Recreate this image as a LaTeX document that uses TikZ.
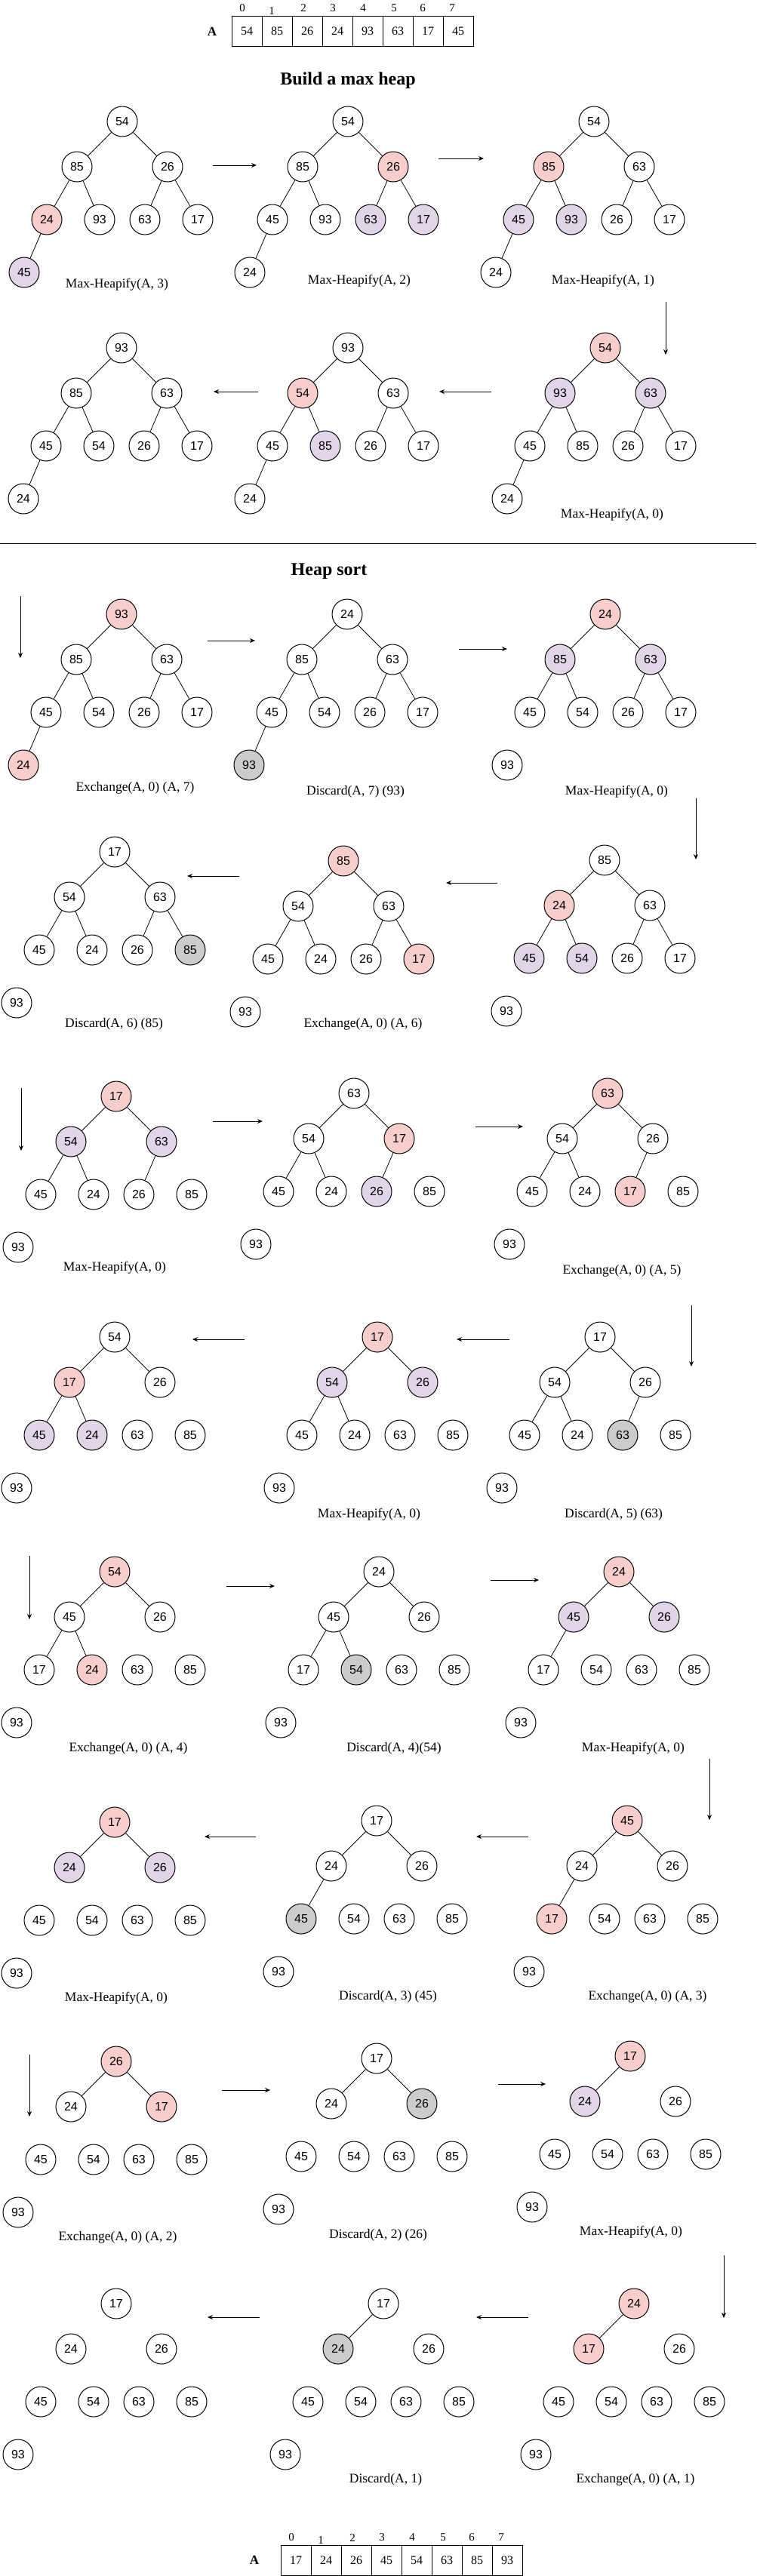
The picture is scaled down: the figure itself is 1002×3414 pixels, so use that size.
\documentclass[tikz,border=0pt]{standalone}
\usepackage{fontspec}
\setmainfont{Liberation Serif}
\setsansfont{Liberation Sans}
\usetikzlibrary{arrows.meta}
\definecolor{hotpink}{HTML}{F8CECC}
\definecolor{lilac}{HTML}{E1D5E7}
\definecolor{offgray}{HTML}{CCCCCC}
\tikzset{
 hnode/.style={circle,draw=black,line width=1pt,minimum size=40pt,inner sep=0pt,fill=white,font=\sffamily\fontsize{16}{18}\selectfont},
 hred/.style={hnode,fill=hotpink},
 hpurple/.style={hnode,fill=lilac},
 hgray/.style={hnode,fill=offgray},
 hedge/.style={line width=0.8pt},
 flow/.style={line width=1pt,-{Stealth[length=7pt,width=6pt]}},
 oplabel/.style={font=\fontsize{17.5}{20}\selectfont},
 cell/.style={draw,line width=1pt,minimum size=40pt,inner sep=0pt,font=\fontsize{16}{18}\selectfont},
 idx/.style={font=\fontsize{15}{17}\selectfont},
 heading/.style={font=\bfseries\fontsize{24}{28}\selectfont}
}
\begin{document}
\begin{tikzpicture}[x=1pt,y=-1pt]
 \useasboundingbox[fill=white] (0,0) rectangle (1002,3414);
 \node[font=\bfseries\fontsize{17}{20}\selectfont] (ta) at (281,42) {A};
 \node[cell] (tc0) at (327,41) {54};
 \node[cell] (tc1) at (367,41) {85};
 \node[cell] (tc2) at (407,41) {26};
 \node[cell] (tc3) at (447,41) {24};
 \node[cell] (tc4) at (487,41) {93};
 \node[cell] (tc5) at (527,41) {63};
 \node[cell] (tc6) at (567,41) {17};
 \node[cell] (tc7) at (607,41) {45};
 \node[idx] (ti0) at (321,11) {0};
 \node[idx] (ti1) at (360,15) {1};
 \node[idx] (ti2) at (402,11) {2};
 \node[idx] (ti3) at (441,11) {3};
 \node[idx] (ti4) at (481,11) {4};
 \node[idx] (ti5) at (522,11) {5};
 \node[idx] (ti6) at (560,11) {6};
 \node[idx] (ti7) at (599,11) {7};
 \node[heading] (build) at (461,107) {Build a max heap};

 \begin{scope}[shift={(162,161)}]
 \node[hnode] (b1n0) at (0,0) {54};
 \node[hnode] (b1n1) at (-60,60) {85};
 \node[hnode] (b1n2) at (60,60) {26};
 \node[hred] (b1n3) at (-100,130) {24};
 \node[hnode] (b1n4) at (-30,130) {93};
 \node[hnode] (b1n5) at (30,130) {63};
 \node[hnode] (b1n6) at (100,130) {17};
 \node[hpurple] (b1n7) at (-130,200) {45};
 \draw[hedge] (b1n0)--(b1n1) (b1n0)--(b1n2) (b1n1)--(b1n3) (b1n1)--(b1n4) (b1n2)--(b1n5) (b1n2)--(b1n6) (b1n3)--(b1n7);
 \end{scope}
 \node[oplabel] (b1op) at (155,377) {Max-Heapify(A, 3)};

 \begin{scope}[shift={(461,161)}]
 \node[hnode] (b2n0) at (0,0) {54};
 \node[hnode] (b2n1) at (-60,60) {85};
 \node[hred] (b2n2) at (60,60) {26};
 \node[hnode] (b2n3) at (-100,130) {45};
 \node[hnode] (b2n4) at (-30,130) {93};
 \node[hpurple] (b2n5) at (30,130) {63};
 \node[hpurple] (b2n6) at (100,130) {17};
 \node[hnode] (b2n7) at (-130,200) {24};
 \draw[hedge] (b2n0)--(b2n1) (b2n0)--(b2n2) (b2n1)--(b2n3) (b2n1)--(b2n4) (b2n2)--(b2n5) (b2n2)--(b2n6) (b2n3)--(b2n7);
 \end{scope}
 \node[oplabel] (b2op) at (476,372) {Max-Heapify(A, 2)};

 \begin{scope}[shift={(787,161)}]
 \node[hnode] (b3n0) at (0,0) {54};
 \node[hred] (b3n1) at (-60,60) {85};
 \node[hnode] (b3n2) at (60,60) {63};
 \node[hpurple] (b3n3) at (-100,130) {45};
 \node[hpurple] (b3n4) at (-30,130) {93};
 \node[hnode] (b3n5) at (30,130) {26};
 \node[hnode] (b3n6) at (100,130) {17};
 \node[hnode] (b3n7) at (-130,200) {24};
 \draw[hedge] (b3n0)--(b3n1) (b3n0)--(b3n2) (b3n1)--(b3n3) (b3n1)--(b3n4) (b3n2)--(b3n5) (b3n2)--(b3n6) (b3n3)--(b3n7);
 \end{scope}
 \node[oplabel] (b3op) at (799,372) {Max-Heapify(A, 1)};

 \begin{scope}[shift={(802,461)}]
 \node[hred] (b4n0) at (0,0) {54};
 \node[hpurple] (b4n1) at (-60,60) {93};
 \node[hpurple] (b4n2) at (60,60) {63};
 \node[hnode] (b4n3) at (-100,130) {45};
 \node[hnode] (b4n4) at (-30,130) {85};
 \node[hnode] (b4n5) at (30,130) {26};
 \node[hnode] (b4n6) at (100,130) {17};
 \node[hnode] (b4n7) at (-130,200) {24};
 \draw[hedge] (b4n0)--(b4n1) (b4n0)--(b4n2) (b4n1)--(b4n3) (b4n1)--(b4n4) (b4n2)--(b4n5) (b4n2)--(b4n6) (b4n3)--(b4n7);
 \end{scope}
 \node[oplabel] (b4op) at (811,682) {Max-Heapify(A, 0)};

 \begin{scope}[shift={(461,461)}]
 \node[hnode] (b5n0) at (0,0) {93};
 \node[hred] (b5n1) at (-60,60) {54};
 \node[hnode] (b5n2) at (60,60) {63};
 \node[hnode] (b5n3) at (-100,130) {45};
 \node[hpurple] (b5n4) at (-30,130) {85};
 \node[hnode] (b5n5) at (30,130) {26};
 \node[hnode] (b5n6) at (100,130) {17};
 \node[hnode] (b5n7) at (-130,200) {24};
 \draw[hedge] (b5n0)--(b5n1) (b5n0)--(b5n2) (b5n1)--(b5n3) (b5n1)--(b5n4) (b5n2)--(b5n5) (b5n2)--(b5n6) (b5n3)--(b5n7);
 \end{scope}

 \begin{scope}[shift={(161,461)}]
 \node[hnode] (b6n0) at (0,0) {93};
 \node[hnode] (b6n1) at (-60,60) {85};
 \node[hnode] (b6n2) at (60,60) {63};
 \node[hnode] (b6n3) at (-100,130) {45};
 \node[hnode] (b6n4) at (-30,130) {54};
 \node[hnode] (b6n5) at (30,130) {26};
 \node[hnode] (b6n6) at (100,130) {17};
 \node[hnode] (b6n7) at (-130,200) {24};
 \draw[hedge] (b6n0)--(b6n1) (b6n0)--(b6n2) (b6n1)--(b6n3) (b6n1)--(b6n4) (b6n2)--(b6n5) (b6n2)--(b6n6) (b6n3)--(b6n7);
 \end{scope}

 \coordinate (ba1s) at (282,219); \coordinate (ba1e) at (340,219);
 \coordinate (ba2s) at (581,210); \coordinate (ba2e) at (641,210);
 \coordinate (ba3s) at (882,400); \coordinate (ba3e) at (882,470);
 \coordinate (ba4s) at (651,519); \coordinate (ba4e) at (582,519);
 \coordinate (ba5s) at (342,519); \coordinate (ba5e) at (283,519);
 \draw[flow] (ba1s) -- (ba1e);
 \draw[flow] (ba2s) -- (ba2e);
 \draw[flow] (ba3s) -- (ba3e);
 \draw[flow] (ba4s) -- (ba4e);
 \draw[flow] (ba5s) -- (ba5e);

 \draw[line width=1pt] (0,720) -- (1002,720);
 \node[heading] (sort) at (436,757) {Heap sort};

 \begin{scope}[shift={(161,814)}]
 \node[hred] (s1n0) at (0,0) {93};
 \node[hnode] (s1n1) at (-60,60) {85};
 \node[hnode] (s1n2) at (60,60) {63};
 \node[hnode] (s1n3) at (-100,130) {45};
 \node[hnode] (s1n4) at (-30,130) {54};
 \node[hnode] (s1n5) at (30,130) {26};
 \node[hnode] (s1n6) at (100,130) {17};
 \node[hred] (s1n7) at (-130,200) {24};
 \draw[hedge] (s1n0)--(s1n1) (s1n0)--(s1n2) (s1n1)--(s1n3) (s1n1)--(s1n4) (s1n2)--(s1n5) (s1n2)--(s1n6) (s1n3)--(s1n7);
 \end{scope}
 \node[oplabel] (s1op) at (179,1044) {Exchange(A, 0) (A, 7)};

 \begin{scope}[shift={(460,814)}]
 \node[hnode] (s2n0) at (0,0) {24};
 \node[hnode] (s2n1) at (-60,60) {85};
 \node[hnode] (s2n2) at (60,60) {63};
 \node[hnode] (s2n3) at (-100,130) {45};
 \node[hnode] (s2n4) at (-30,130) {54};
 \node[hnode] (s2n5) at (30,130) {26};
 \node[hnode] (s2n6) at (100,130) {17};
 \node[hgray] (s2n7) at (-130,200) {93};
 \draw[hedge] (s2n0)--(s2n1) (s2n0)--(s2n2) (s2n1)--(s2n3) (s2n1)--(s2n4) (s2n2)--(s2n5) (s2n2)--(s2n6) (s2n3)--(s2n7);
 \end{scope}
 \node[oplabel] (s2op) at (471,1049) {Discard(A, 7) (93)};

 \begin{scope}[shift={(802,814)}]
 \node[hred] (s3n0) at (0,0) {24};
 \node[hpurple] (s3n1) at (-60,60) {85};
 \node[hpurple] (s3n2) at (60,60) {63};
 \node[hnode] (s3n3) at (-100,130) {45};
 \node[hnode] (s3n4) at (-30,130) {54};
 \node[hnode] (s3n5) at (30,130) {26};
 \node[hnode] (s3n6) at (100,130) {17};
 \node[hnode] (s3n7) at (-130,200) {93};
 \draw[hedge] (s3n0)--(s3n1) (s3n0)--(s3n2) (s3n1)--(s3n3) (s3n1)--(s3n4) (s3n2)--(s3n5) (s3n2)--(s3n6);
 \end{scope}
 \node[oplabel] (s3op) at (817,1049) {Max-Heapify(A, 0)};

 \begin{scope}[shift={(801,1140)}]
 \node[hnode] (s4n0) at (0,0) {85};
 \node[hred] (s4n1) at (-60,60) {24};
 \node[hnode] (s4n2) at (60,60) {63};
 \node[hpurple] (s4n3) at (-100,130) {45};
 \node[hpurple] (s4n4) at (-30,130) {54};
 \node[hnode] (s4n5) at (30,130) {26};
 \node[hnode] (s4n6) at (100,130) {17};
 \node[hnode] (s4n7) at (-130,200) {93};
 \draw[hedge] (s4n0)--(s4n1) (s4n0)--(s4n2) (s4n1)--(s4n3) (s4n1)--(s4n4) (s4n2)--(s4n5) (s4n2)--(s4n6);
 \end{scope}

 \begin{scope}[shift={(455,1141)}]
 \node[hred] (s5n0) at (0,0) {85};
 \node[hnode] (s5n1) at (-60,60) {54};
 \node[hnode] (s5n2) at (60,60) {63};
 \node[hnode] (s5n3) at (-100,130) {45};
 \node[hnode] (s5n4) at (-30,130) {24};
 \node[hnode] (s5n5) at (30,130) {26};
 \node[hred] (s5n6) at (100,130) {17};
 \node[hnode] (s5n7) at (-130,200) {93};
 \draw[hedge] (s5n0)--(s5n1) (s5n0)--(s5n2) (s5n1)--(s5n3) (s5n1)--(s5n4) (s5n2)--(s5n5) (s5n2)--(s5n6);
 \end{scope}
 \node[oplabel] (s5op) at (481,1357) {Exchange(A, 0) (A, 6)};

 \begin{scope}[shift={(152,1129)}]
 \node[hnode] (s6n0) at (0,0) {17};
 \node[hnode] (s6n1) at (-60,60) {54};
 \node[hnode] (s6n2) at (60,60) {63};
 \node[hnode] (s6n3) at (-100,130) {45};
 \node[hnode] (s6n4) at (-30,130) {24};
 \node[hnode] (s6n5) at (30,130) {26};
 \node[hgray] (s6n6) at (100,130) {85};
 \node[hnode] (s6n7) at (-130,200) {93};
 \draw[hedge] (s6n0)--(s6n1) (s6n0)--(s6n2) (s6n1)--(s6n3) (s6n1)--(s6n4) (s6n2)--(s6n5) (s6n2)--(s6n6);
 \end{scope}
 \node[oplabel] (s6op) at (151,1357) {Discard(A, 6) (85)};

 \begin{scope}[shift={(154,1453)}]
 \node[hred] (s7n0) at (0,0) {17};
 \node[hpurple] (s7n1) at (-60,60) {54};
 \node[hpurple] (s7n2) at (60,60) {63};
 \node[hnode] (s7n3) at (-100,130) {45};
 \node[hnode] (s7n4) at (-30,130) {24};
 \node[hnode] (s7n5) at (30,130) {26};
 \node[hnode] (s7n6) at (100,130) {85};
 \node[hnode] (s7n7) at (-130,200) {93};
 \draw[hedge] (s7n0)--(s7n1) (s7n0)--(s7n2) (s7n1)--(s7n3) (s7n1)--(s7n4) (s7n2)--(s7n5);
 \end{scope}
 \node[oplabel] (s7op) at (152,1680) {Max-Heapify(A, 0)};

 \begin{scope}[shift={(469,1449)}]
 \node[hnode] (s8n0) at (0,0) {63};
 \node[hnode] (s8n1) at (-60,60) {54};
 \node[hred] (s8n2) at (60,60) {17};
 \node[hnode] (s8n3) at (-100,130) {45};
 \node[hnode] (s8n4) at (-30,130) {24};
 \node[hpurple] (s8n5) at (30,130) {26};
 \node[hnode] (s8n6) at (100,130) {85};
 \node[hnode] (s8n7) at (-130,200) {93};
 \draw[hedge] (s8n0)--(s8n1) (s8n0)--(s8n2) (s8n1)--(s8n3) (s8n1)--(s8n4) (s8n2)--(s8n5);
 \end{scope}

 \begin{scope}[shift={(805,1449)}]
 \node[hred] (s9n0) at (0,0) {63};
 \node[hnode] (s9n1) at (-60,60) {54};
 \node[hnode] (s9n2) at (60,60) {26};
 \node[hnode] (s9n3) at (-100,130) {45};
 \node[hnode] (s9n4) at (-30,130) {24};
 \node[hred] (s9n5) at (30,130) {17};
 \node[hnode] (s9n6) at (100,130) {85};
 \node[hnode] (s9n7) at (-130,200) {93};
 \draw[hedge] (s9n0)--(s9n1) (s9n0)--(s9n2) (s9n1)--(s9n3) (s9n1)--(s9n4) (s9n2)--(s9n5);
 \end{scope}
 \node[oplabel] (s9op) at (824,1684) {Exchange(A, 0) (A, 5)};

 \begin{scope}[shift={(795,1772)}]
 \node[hnode] (s10n0) at (0,0) {17};
 \node[hnode] (s10n1) at (-60,60) {54};
 \node[hnode] (s10n2) at (60,60) {26};
 \node[hnode] (s10n3) at (-100,130) {45};
 \node[hnode] (s10n4) at (-30,130) {24};
 \node[hgray] (s10n5) at (30,130) {63};
 \node[hnode] (s10n6) at (100,130) {85};
 \node[hnode] (s10n7) at (-130,200) {93};
 \draw[hedge] (s10n0)--(s10n1) (s10n0)--(s10n2) (s10n1)--(s10n3) (s10n1)--(s10n4) (s10n2)--(s10n5);
 \end{scope}
 \node[oplabel] (s10op) at (813,2007) {Discard(A, 5) (63)};

 \begin{scope}[shift={(500,1772)}]
 \node[hred] (s11n0) at (0,0) {17};
 \node[hpurple] (s11n1) at (-60,60) {54};
 \node[hpurple] (s11n2) at (60,60) {26};
 \node[hnode] (s11n3) at (-100,130) {45};
 \node[hnode] (s11n4) at (-30,130) {24};
 \node[hnode] (s11n5) at (30,130) {63};
 \node[hnode] (s11n6) at (100,130) {85};
 \node[hnode] (s11n7) at (-130,200) {93};
 \draw[hedge] (s11n0)--(s11n1) (s11n0)--(s11n2) (s11n1)--(s11n3) (s11n1)--(s11n4);
 \end{scope}
 \node[oplabel] (s11op) at (489,2007) {Max-Heapify(A, 0)};

 \begin{scope}[shift={(152,1772)}]
 \node[hnode] (s12n0) at (0,0) {54};
 \node[hred] (s12n1) at (-60,60) {17};
 \node[hnode] (s12n2) at (60,60) {26};
 \node[hpurple] (s12n3) at (-100,130) {45};
 \node[hpurple] (s12n4) at (-30,130) {24};
 \node[hnode] (s12n5) at (30,130) {63};
 \node[hnode] (s12n6) at (100,130) {85};
 \node[hnode] (s12n7) at (-130,200) {93};
 \draw[hedge] (s12n0)--(s12n1) (s12n0)--(s12n2) (s12n1)--(s12n3) (s12n1)--(s12n4);
 \end{scope}

 \begin{scope}[shift={(152,2083)}]
 \node[hred] (s13n0) at (0,0) {54};
 \node[hnode] (s13n1) at (-60,60) {45};
 \node[hnode] (s13n2) at (60,60) {26};
 \node[hnode] (s13n3) at (-100,130) {17};
 \node[hred] (s13n4) at (-30,130) {24};
 \node[hnode] (s13n5) at (30,130) {63};
 \node[hnode] (s13n6) at (100,130) {85};
 \node[hnode] (s13n7) at (-130,200) {93};
 \draw[hedge] (s13n0)--(s13n1) (s13n0)--(s13n2) (s13n1)--(s13n3) (s13n1)--(s13n4);
 \end{scope}
 \node[oplabel] (s13op) at (170,2317) {Exchange(A, 0) (A, 4)};

 \begin{scope}[shift={(502,2083)}]
 \node[hnode] (s14n0) at (0,0) {24};
 \node[hnode] (s14n1) at (-60,60) {45};
 \node[hnode] (s14n2) at (60,60) {26};
 \node[hnode] (s14n3) at (-100,130) {17};
 \node[hgray] (s14n4) at (-30,130) {54};
 \node[hnode] (s14n5) at (30,130) {63};
 \node[hnode] (s14n6) at (100,130) {85};
 \node[hnode] (s14n7) at (-130,200) {93};
 \draw[hedge] (s14n0)--(s14n1) (s14n0)--(s14n2) (s14n1)--(s14n3) (s14n1)--(s14n4);
 \end{scope}
 \node[oplabel] (s14op) at (522,2317) {Discard(A, 4)(54)};

 \begin{scope}[shift={(820,2083)}]
 \node[hred] (s15n0) at (0,0) {24};
 \node[hpurple] (s15n1) at (-60,60) {45};
 \node[hpurple] (s15n2) at (60,60) {26};
 \node[hnode] (s15n3) at (-100,130) {17};
 \node[hnode] (s15n4) at (-30,130) {54};
 \node[hnode] (s15n5) at (30,130) {63};
 \node[hnode] (s15n6) at (100,130) {85};
 \node[hnode] (s15n7) at (-130,200) {93};
 \draw[hedge] (s15n0)--(s15n1) (s15n0)--(s15n2) (s15n1)--(s15n3);
 \end{scope}
 \node[oplabel] (s15op) at (839,2317) {Max-Heapify(A, 0)};

 \begin{scope}[shift={(831,2413)}]
 \node[hred] (s16n0) at (0,0) {45};
 \node[hnode] (s16n1) at (-60,60) {24};
 \node[hnode] (s16n2) at (60,60) {26};
 \node[hred] (s16n3) at (-100,130) {17};
 \node[hnode] (s16n4) at (-30,130) {54};
 \node[hnode] (s16n5) at (30,130) {63};
 \node[hnode] (s16n6) at (100,130) {85};
 \node[hnode] (s16n7) at (-130,200) {93};
 \draw[hedge] (s16n0)--(s16n1) (s16n0)--(s16n2) (s16n1)--(s16n3);
 \end{scope}
 \node[oplabel] (s16op) at (858,2646) {Exchange(A, 0) (A, 3)};

 \begin{scope}[shift={(499,2413)}]
 \node[hnode] (s17n0) at (0,0) {17};
 \node[hnode] (s17n1) at (-60,60) {24};
 \node[hnode] (s17n2) at (60,60) {26};
 \node[hgray] (s17n3) at (-100,130) {45};
 \node[hnode] (s17n4) at (-30,130) {54};
 \node[hnode] (s17n5) at (30,130) {63};
 \node[hnode] (s17n6) at (100,130) {85};
 \node[hnode] (s17n7) at (-130,200) {93};
 \draw[hedge] (s17n0)--(s17n1) (s17n0)--(s17n2) (s17n1)--(s17n3);
 \end{scope}
 \node[oplabel] (s17op) at (514,2646) {Discard(A, 3) (45)};

 \begin{scope}[shift={(152,2415)}]
 \node[hred] (s18n0) at (0,0) {17};
 \node[hpurple] (s18n1) at (-60,60) {24};
 \node[hpurple] (s18n2) at (60,60) {26};
 \node[hnode] (s18n3) at (-100,130) {45};
 \node[hnode] (s18n4) at (-30,130) {54};
 \node[hnode] (s18n5) at (30,130) {63};
 \node[hnode] (s18n6) at (100,130) {85};
 \node[hnode] (s18n7) at (-130,200) {93};
 \draw[hedge] (s18n0)--(s18n1) (s18n0)--(s18n2);
 \end{scope}
 \node[oplabel] (s18op) at (154,2648) {Max-Heapify(A, 0)};

 \begin{scope}[shift={(154,2732)}]
 \node[hred] (s19n0) at (0,0) {26};
 \node[hnode] (s19n1) at (-60,60) {24};
 \node[hred] (s19n2) at (60,60) {17};
 \node[hnode] (s19n3) at (-100,130) {45};
 \node[hnode] (s19n4) at (-30,130) {54};
 \node[hnode] (s19n5) at (30,130) {63};
 \node[hnode] (s19n6) at (100,130) {85};
 \node[hnode] (s19n7) at (-130,200) {93};
 \draw[hedge] (s19n0)--(s19n1) (s19n0)--(s19n2);
 \end{scope}
 \node[oplabel] (s19op) at (156,2965) {Exchange(A, 0) (A, 2)};

 \begin{scope}[shift={(499,2728)}]
 \node[hnode] (s20n0) at (0,0) {17};
 \node[hnode] (s20n1) at (-60,60) {24};
 \node[hgray] (s20n2) at (60,60) {26};
 \node[hnode] (s20n3) at (-100,130) {45};
 \node[hnode] (s20n4) at (-30,130) {54};
 \node[hnode] (s20n5) at (30,130) {63};
 \node[hnode] (s20n6) at (100,130) {85};
 \node[hnode] (s20n7) at (-130,200) {93};
 \draw[hedge] (s20n0)--(s20n1) (s20n0)--(s20n2);
 \end{scope}
 \node[oplabel] (s20op) at (501,2962) {Discard(A, 2) (26)};

 \begin{scope}[shift={(835,2725)}]
 \node[hred] (s21n0) at (0,0) {17};
 \node[hpurple] (s21n1) at (-60,60) {24};
 \node[hnode] (s21n2) at (60,60) {26};
 \node[hnode] (s21n3) at (-100,130) {45};
 \node[hnode] (s21n4) at (-30,130) {54};
 \node[hnode] (s21n5) at (30,130) {63};
 \node[hnode] (s21n6) at (100,130) {85};
 \node[hnode] (s21n7) at (-130,200) {93};
 \draw[hedge] (s21n0)--(s21n1);
 \end{scope}
 \node[oplabel] (s21op) at (836,2958) {Max-Heapify(A, 0)};

 \begin{scope}[shift={(840,3053)}]
 \node[hred] (s22n0) at (0,0) {24};
 \node[hred] (s22n1) at (-60,60) {17};
 \node[hnode] (s22n2) at (60,60) {26};
 \node[hnode] (s22n3) at (-100,130) {45};
 \node[hnode] (s22n4) at (-30,130) {54};
 \node[hnode] (s22n5) at (30,130) {63};
 \node[hnode] (s22n6) at (100,130) {85};
 \node[hnode] (s22n7) at (-130,200) {93};
 \draw[hedge] (s22n0)--(s22n1);
 \end{scope}
 \node[oplabel] (s22op) at (842,3286) {Exchange(A, 0) (A, 1)};

 \begin{scope}[shift={(508,3053)}]
 \node[hnode] (s23n0) at (0,0) {17};
 \node[hgray] (s23n1) at (-60,60) {24};
 \node[hnode] (s23n2) at (60,60) {26};
 \node[hnode] (s23n3) at (-100,130) {45};
 \node[hnode] (s23n4) at (-30,130) {54};
 \node[hnode] (s23n5) at (30,130) {63};
 \node[hnode] (s23n6) at (100,130) {85};
 \node[hnode] (s23n7) at (-130,200) {93};
 \draw[hedge] (s23n0)--(s23n1);
 \end{scope}
 \node[oplabel] (s23op) at (511,3286) {Discard(A, 1)};

 \begin{scope}[shift={(154,3053)}]
 \node[hnode] (s24n0) at (0,0) {17};
 \node[hnode] (s24n1) at (-60,60) {24};
 \node[hnode] (s24n2) at (60,60) {26};
 \node[hnode] (s24n3) at (-100,130) {45};
 \node[hnode] (s24n4) at (-30,130) {54};
 \node[hnode] (s24n5) at (30,130) {63};
 \node[hnode] (s24n6) at (100,130) {85};
 \node[hnode] (s24n7) at (-130,200) {93};
 \end{scope}

 \coordinate (sa1s) at (27,790); \coordinate (sa1e) at (27,872);
 \coordinate (sa2s) at (275,849); \coordinate (sa2e) at (338,849);
 \coordinate (sa3s) at (608,860); \coordinate (sa3e) at (672,860);
 \coordinate (sa4s) at (922,1058); \coordinate (sa4e) at (922,1139);
 \coordinate (sa5s) at (659,1170); \coordinate (sa5e) at (591,1170);
 \coordinate (sa6s) at (317,1161); \coordinate (sa6e) at (248,1161);
 \coordinate (sa7s) at (28,1442); \coordinate (sa7e) at (28,1525);
 \coordinate (sa8s) at (282,1486); \coordinate (sa8e) at (348,1486);
 \coordinate (sa9s) at (630,1493); \coordinate (sa9e) at (693,1493);
 \coordinate (sa10s) at (916,1730); \coordinate (sa10e) at (916,1811);
 \coordinate (sa11s) at (675,1775); \coordinate (sa11e) at (605,1775);
 \coordinate (sa12s) at (324,1775); \coordinate (sa12e) at (255,1775);
 \coordinate (sa13s) at (39,2062); \coordinate (sa13e) at (39,2146);
 \coordinate (sa14s) at (300,2102); \coordinate (sa14e) at (364,2102);
 \coordinate (sa15s) at (650,2094); \coordinate (sa15e) at (714,2094);
 \coordinate (sa16s) at (940,2331); \coordinate (sa16e) at (940,2412);
 \coordinate (sa17s) at (700,2434); \coordinate (sa17e) at (631,2434);
 \coordinate (sa18s) at (339,2434); \coordinate (sa18e) at (271,2434);
 \coordinate (sa19s) at (39,2723); \coordinate (sa19e) at (39,2805);
 \coordinate (sa20s) at (294,2770); \coordinate (sa20e) at (358,2770);
 \coordinate (sa21s) at (660,2762); \coordinate (sa21e) at (723,2762);
 \coordinate (sa22s) at (959,2989); \coordinate (sa22e) at (959,3072);
 \coordinate (sa23s) at (700,3071); \coordinate (sa23e) at (631,3071);
 \coordinate (sa24s) at (344,3071); \coordinate (sa24e) at (275,3071);
 \draw[flow] (sa1s) -- (sa1e);
 \draw[flow] (sa2s) -- (sa2e);
 \draw[flow] (sa3s) -- (sa3e);
 \draw[flow] (sa4s) -- (sa4e);
 \draw[flow] (sa5s) -- (sa5e);
 \draw[flow] (sa6s) -- (sa6e);
 \draw[flow] (sa7s) -- (sa7e);
 \draw[flow] (sa8s) -- (sa8e);
 \draw[flow] (sa9s) -- (sa9e);
 \draw[flow] (sa10s) -- (sa10e);
 \draw[flow] (sa11s) -- (sa11e);
 \draw[flow] (sa12s) -- (sa12e);
 \draw[flow] (sa13s) -- (sa13e);
 \draw[flow] (sa14s) -- (sa14e);
 \draw[flow] (sa15s) -- (sa15e);
 \draw[flow] (sa16s) -- (sa16e);
 \draw[flow] (sa17s) -- (sa17e);
 \draw[flow] (sa18s) -- (sa18e);
 \draw[flow] (sa19s) -- (sa19e);
 \draw[flow] (sa20s) -- (sa20e);
 \draw[flow] (sa21s) -- (sa21e);
 \draw[flow] (sa22s) -- (sa22e);
 \draw[flow] (sa23s) -- (sa23e);
 \draw[flow] (sa24s) -- (sa24e);

 \node[font=\bfseries\fontsize{17}{20}\selectfont] (ba) at (337,3393) {A};
 \node[cell] (bc0) at (392,3393) {17};
 \node[cell] (bc1) at (432,3393) {24};
 \node[cell] (bc2) at (472,3393) {26};
 \node[cell] (bc3) at (512,3393) {45};
 \node[cell] (bc4) at (552,3393) {54};
 \node[cell] (bc5) at (592,3393) {63};
 \node[cell] (bc6) at (632,3393) {85};
 \node[cell] (bc7) at (672,3393) {93};
 \node[idx] (bi0) at (386,3363) {0};
 \node[idx] (bi1) at (425,3367) {1};
 \node[idx] (bi2) at (467,3363) {2};
 \node[idx] (bi3) at (506,3363) {3};
 \node[idx] (bi4) at (546,3363) {4};
 \node[idx] (bi5) at (587,3363) {5};
 \node[idx] (bi6) at (625,3363) {6};
 \node[idx] (bi7) at (664,3363) {7};
\end{tikzpicture}
\end{document}
